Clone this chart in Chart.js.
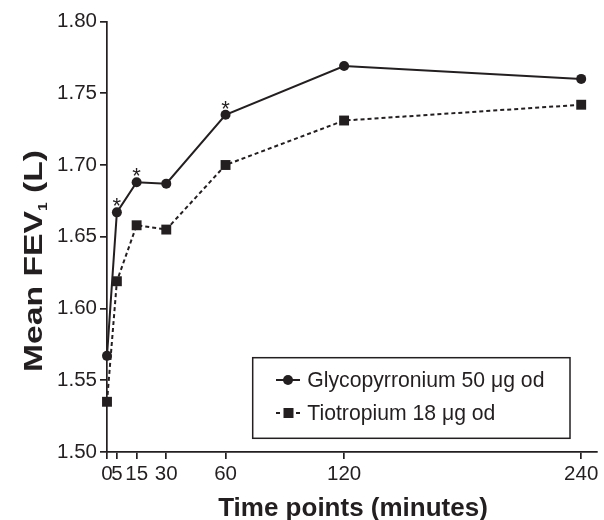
<!DOCTYPE html>
<html><head><meta charset="utf-8">
<script src="https://cdn.jsdelivr.net/npm/chart.js@4"></script>
<style>html,body{margin:0;padding:0;background:#fff}#wrap{width:604px;height:520px;position:relative}</style>
</head><body><div id="wrap"><canvas id="c" width="604" height="520"></canvas></div>
<script>
// ---- data ----
const timePoints = [0, 5, 15, 30, 60, 120, 240];
const xTickValues = [0, 5, 15, 30, 60, 120, 240];
const glycoValues = [1.567, 1.667, 1.688, 1.687, 1.735, 1.769, 1.760];
const tioValues = [1.535, 1.619, 1.658, 1.655, 1.700, 1.731, 1.742];
const glycoSignificant = [false, true, true, false, true, false, false];
const seriesNames = ['Glycopyrronium 50 μg od', 'Tiotropium 18 μg od'];
const xTitle = 'Time points (minutes)';
const yTitleParts = ['Mean FEV', '1', ' (L)'];

const INK = '#231f20';
const FONT = '"Liberation Sans", Arial, Helvetica, sans-serif';

const toXY = (vals) => vals.map((v, i) => ({ x: timePoints[i], y: v }));

const decorPlugin = {
  id: 'decor',
  afterDatasetsDraw(chart) {
    const ctx = chart.ctx;
    const xs = chart.scales.x, ys = chart.scales.y;
    ctx.save();
    // significance asterisks
    ctx.fillStyle = INK;
    ctx.font = '22px ' + FONT;
    ctx.textAlign = 'center';
    ctx.textBaseline = 'alphabetic';
    glycoValues.forEach((v, i) => {
      if (!glycoSignificant[i]) return;
      const px = xs.getPixelForValue(timePoints[i]);
      const py = ys.getPixelForValue(v);
      ctx.fillText('*', px, py + 1);
    });
    // legend box
    const bx = 252.7, by = 357.7, bw = 317.3, bh = 80.6;
    ctx.fillStyle = '#fff';
    ctx.fillRect(bx, by, bw, bh);
    ctx.strokeStyle = INK;
    ctx.lineWidth = 1.5;
    ctx.strokeRect(bx, by, bw, bh);
    const rows = [380, 413];
    chart.data.datasets.forEach((ds, i) => {
      const y = rows[i];
      ctx.strokeStyle = INK;
      ctx.lineWidth = 2;
      ctx.setLineDash([]);
      ctx.beginPath();
      if (ds.borderDash && ds.borderDash.length) {
        ctx.moveTo(276, y); ctx.lineTo(280, y);
        ctx.moveTo(296, y); ctx.lineTo(300, y);
      } else {
        ctx.moveTo(276, y); ctx.lineTo(300, y);
      }
      ctx.stroke();
      ctx.fillStyle = INK;
      if (ds.pointStyle === 'rect') {
        ctx.fillRect(283.5, y - 5, 10, 10);
      } else {
        ctx.beginPath(); ctx.arc(288, y, 5, 0, Math.PI * 2); ctx.fill();
      }
      ctx.font = '21.2px ' + FONT;
      ctx.textAlign = 'left';
      ctx.textBaseline = 'middle';
      ctx.fillText(ds.label, 307.3, y + 1);
    });
    // x title
    ctx.fillStyle = INK;
    ctx.font = 'bold 26px ' + FONT;
    ctx.textAlign = 'center';
    ctx.textBaseline = 'alphabetic';
    ctx.fillText(xTitle, 353, 516);
    // y title (rotated, horizontally stretched) with subscript
    ctx.save();
    ctx.translate(41.7, 261);
    ctx.rotate(-Math.PI / 2);
    const big = 'bold 26px ' + FONT, small = 'bold 12px ' + FONT;
    ctx.font = big; const w0 = ctx.measureText(yTitleParts[0]).width;
    const w2 = ctx.measureText(yTitleParts[2]).width;
    ctx.font = small; const w1 = ctx.measureText(yTitleParts[1]).width;
    const total = w0 + w1 + w2;
    ctx.scale(222 / total, 1);
    let x0 = -total / 2;
    ctx.textAlign = 'left';
    ctx.font = big; ctx.fillText(yTitleParts[0], x0, 0);
    ctx.font = small; ctx.fillText(yTitleParts[1], x0 + w0, 5);
    ctx.font = big; ctx.fillText(yTitleParts[2], x0 + w0 + w1, 0);
    ctx.restore();
    ctx.restore();
  }
};

new Chart(document.getElementById('c'), {
  type: 'line',
  data: {
    datasets: [
      {
        label: seriesNames[0], data: toXY(glycoValues),
        borderColor: INK, backgroundColor: INK, borderWidth: 2,
        pointStyle: 'circle', pointRadius: 5, pointBorderWidth: 0,
        pointBackgroundColor: INK, tension: 0, clip: false
      },
      {
        label: seriesNames[1], data: toXY(tioValues),
        borderColor: INK, backgroundColor: INK, borderWidth: 2, borderDash: [4, 3],
        pointStyle: 'rect', pointRadius: 7, pointBorderWidth: 0,
        pointBackgroundColor: INK, tension: 0, clip: false
      }
    ]
  },
  options: {
    responsive: false, animation: false, devicePixelRatio: 1,
    layout: { padding: { top: 21.5, left: 0, right: 0, bottom: 0 } },
    plugins: { legend: { display: false }, tooltip: { enabled: false }, title: { display: false } },
    scales: {
      x: {
        type: 'linear', min: 0, max: 248,
        afterBuildTicks: (s) => { s.ticks = xTickValues.map(v => ({ value: v })); },
        afterFit: (s) => { s.height = 68; s.paddingLeft = 0; s.paddingRight = 0; },
        ticks: { autoSkip: false, maxRotation: 0, minRotation: 0, padding: 3, color: INK,
          font: { family: FONT, size: 20.5 }, callback: (v) => String(v) },
        grid: { drawOnChartArea: false, drawTicks: true, tickLength: 7, color: INK, lineWidth: 1.7 },
        border: { display: true, color: INK, width: 1.7 }
      },
      y: {
        min: 1.5, max: 1.8,
        afterFit: (s) => { s.width = 107; s.paddingTop = 0; s.paddingBottom = 0; },
        ticks: { stepSize: 0.05, padding: 3, color: INK, font: { family: FONT, size: 20.5 },
          callback: (v) => Number(v).toFixed(2) },
        grid: { drawOnChartArea: false, drawTicks: true, tickLength: 7, color: INK, lineWidth: 1.7 },
        border: { display: true, color: INK, width: 1.7 }
      }
    }
  },
  plugins: [decorPlugin]
});
</script></body></html>
